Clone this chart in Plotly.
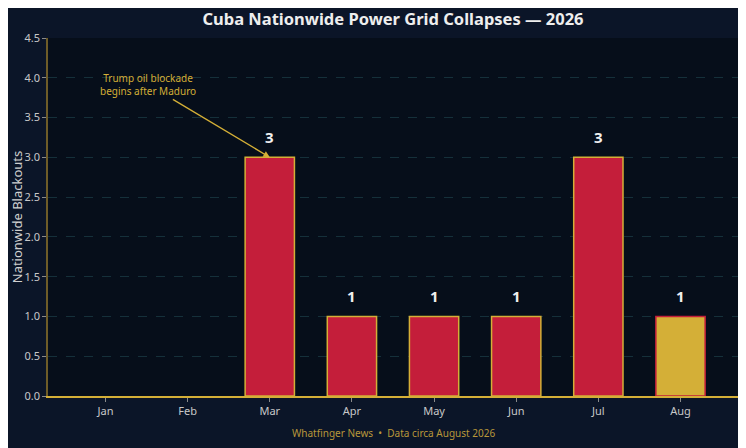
import plotly.graph_objects as go

months = ["Jan", "Feb", "Mar", "Apr", "May", "Jun", "Jul", "Aug"]
blackouts = [0, 0, 3, 1, 1, 1, 3, 1]

RED = "#c41e3a"
GOLD = "#d4af37"

fill = [GOLD if m == "Aug" else RED for m in months]
edge = [RED if m == "Aug" else GOLD for m in months]
edge_w = [1.5 if v > 0 else 0 for v in blackouts]

font = "Source Sans Pro, Noto Sans, sans-serif"

fig = go.Figure()
fig.add_trace(go.Bar(
    x=months, y=blackouts, width=0.6,
    marker=dict(color=fill, line=dict(color=edge, width=edge_w)),
    hoverinfo="x+y",
))

# value labels above the bars
for m, v in zip(months, blackouts):
    if v > 0:
        fig.add_annotation(
            x=m, y=v, text=f"<b>{v}</b>", showarrow=False,
            yanchor="bottom", yshift=8,
            font=dict(color="#f0f0f0", size=15, family=font),
        )

fig.add_annotation(
    x="Mar", y=3.0, ax=-122, ay=-73, axref="pixel", ayref="pixel",
    text="Trump oil blockade<br>begins after Maduro", showarrow=True,
    arrowhead=2, arrowsize=1, arrowwidth=1.3, arrowcolor=GOLD,
    font=dict(color=GOLD, size=10, family=font),
)
fig.add_annotation(
    x=0.5, y=0, xref="paper", yref="paper", showarrow=False,
    yshift=-37, yanchor="middle",
    text="Whatfinger News  •  Data circa August 2026",
    font=dict(color="#b8973a", size=10, family=font),
)

# the page puts the figure 8px in from the top-left, so margins allow for it
fig.update_layout(
    width=746, height=448,
    margin=dict(l=40, r=16, t=30, b=60, autoexpand=False),
    paper_bgcolor="#0b1528", plot_bgcolor="#060e1a",
    title=dict(text="<b>Cuba Nationwide Power Grid Collapses — 2026</b>",
               x=0.5, xref="paper", y=1 - 11 / 448, xanchor="center", yanchor="middle",
               font=dict(color="#eeeeee", size=16.5, family=font)),
    font=dict(family=font, color="#c8c8c8"),
    showlegend=False,
)
fig.update_xaxes(
    range=[-0.7, 7.7],
    showline=True, linecolor=GOLD, linewidth=1.5,
    ticks="outside", tickcolor="#8a8a8a", ticklen=4,
    tickfont=dict(size=11, color="#c8c8c8"),
    showgrid=False, automargin=False,
)
fig.update_yaxes(
    range=[0, 4.5], dtick=0.5, tickformat=".1f",
    showline=True, linecolor="#6e5c28", linewidth=1.5,
    ticks="outside", tickcolor="#8a8a8a", ticklen=4,
    tickfont=dict(size=11, color="#c8c8c8"),
    gridcolor="#15303a", griddash="dash", gridwidth=1,
    zeroline=False, automargin=False,
    title=dict(text="Nationwide Blackouts", font=dict(size=13, color="#d0d0d0"), standoff=6),
)

fig.write_html("out.html")
